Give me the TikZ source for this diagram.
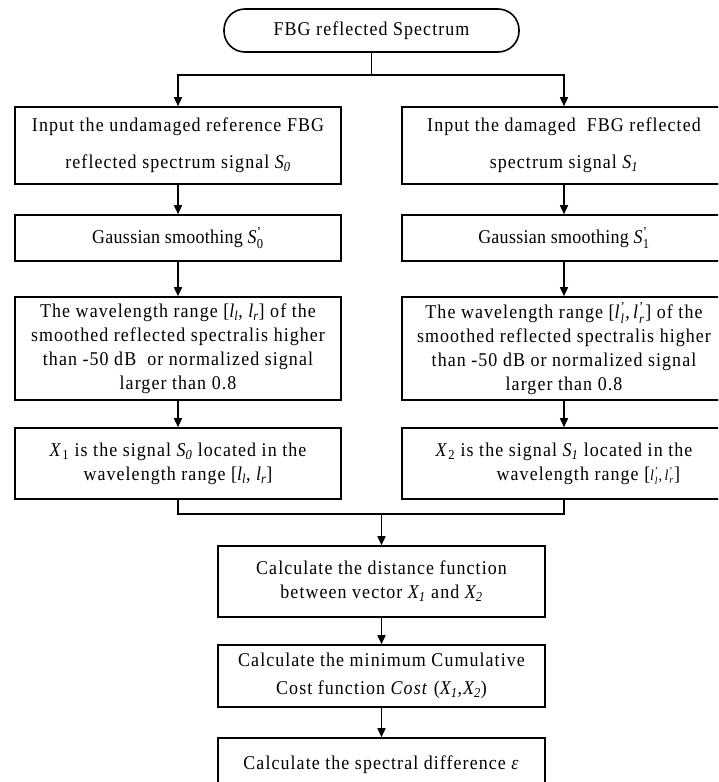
\documentclass[tikz,border=0pt]{standalone}
\usepackage{fontspec}
\usepackage{amsmath}
\setmainfont{Liberation Serif}[FakeStretch=0.92]
\usetikzlibrary{arrows.meta}
\newcommand\pS[1]{\textit{S}$^{\text{'}}_{\text{#1}}$}
\newcommand\iS[1]{\textit{S\textsubscript{#1}}}
\newcommand\lp[1]{\textit{l}$^{\text{'}}_{\text{\textit{#1}}}$}
\begin{document}
\begin{tikzpicture}[x=1pt,y=-1pt,
  box/.style={draw, line width=1.6pt, align=center, inner sep=0pt,
    font=\fontsize{19.5}{24}\selectfont\addfontfeature{LetterSpace=5.5}},
  tight/.style={font=\fontsize{19.5}{24}\selectfont\addfontfeature{LetterSpace=1.5}},
  mid/.style={font=\fontsize{19.5}{24}\selectfont\addfontfeature{LetterSpace=5.5}},
  arr/.style={line width=1.6pt, -{Triangle[length=9pt,width=8pt]}},
  ln/.style={line width=1.6pt}]
\clip (0,0) rectangle (718,782);
\node[box, rounded corners=21pt, minimum width=295pt, minimum height=43pt] (top) at (371.5,30.5) {FBG reflected Spectrum};
\node[box, mid, minimum width=326pt, minimum height=77pt] (L1) at (178,145.5) {Input the undamaged reference FBG\\[13pt] reflected spectrum signal \iS{0}};
\node[box, minimum width=324pt, minimum height=77pt] (R1) at (564,145.5) {Input the damaged\ \ FBG reflected\\[13pt] spectrum signal \iS{1}};
\node[box, tight, minimum width=326pt, minimum height=46pt] (L2) at (178,238) {Gaussian smoothing \pS{0}};
\node[box, tight, minimum width=324pt, minimum height=46pt] (R2) at (564,238) {Gaussian smoothing \pS{1}};
\node[box, minimum width=326pt, minimum height=103pt] (L3) at (178,348.5) {The wavelength range [\textit{l\textsubscript{l}}, \textit{l\textsubscript{r}}] of the\\ smoothed reflected spectralis higher\\ than -50 dB\ \ or normalized signal\\ larger than 0.8};
\node[box, minimum width=324pt, minimum height=103pt] (R3) at (564,348.5) {The wavelength range [\lp{l},\,\lp{r}] of the\\ smoothed reflected spectralis higher\\ than -50 dB or normalized signal\\ larger than 0.8};
\node[box, minimum width=326pt, minimum height=71pt] (L4) at (178,463.5) {\textit{X}\textsubscript{1} is the signal \iS{0} located in the\\ wavelength range [\textit{l\textsubscript{l}}, \textit{l\textsubscript{r}}]};
\node[box, minimum width=324pt, minimum height=71pt] (R4) at (564,463.5) {\textit{X}\textsubscript{2} is the signal \iS{1} located in the\\ \hspace*{2.5em}wavelength range [{\fontsize{15}{18}\selectfont\lp{l},\,\lp{r}}]};
\node[box, minimum width=327pt, minimum height=71pt] (M1) at (381.5,581.5) {Calculate the distance function\\ between vector \textit{X\textsubscript{1}} and \textit{X\textsubscript{2}}};
\node[box, minimum width=327pt, minimum height=62pt] (M2) at (381.5,676) {Calculate the minimum Cumulative\\[4pt] Cost function \textit{Cost} (\textit{X\textsubscript{1},X\textsubscript{2}})};
\node[box, minimum width=327pt, minimum height=62pt, text depth=0pt] (M3) at (381.5,769) {\raisebox{12pt}{Calculate the spectral difference \textit{ε}}};
\coordinate (split) at (371.5,75);
\coordinate (merge) at (381.5,514);
\draw[ln] (top.south) -- (split);
\draw[arr] (split) -| (L1.north);
\draw[arr] (split) -| (R1.north);
\draw[arr] (L1) -- (L2);
\draw[arr] (R1) -- (R2);
\draw[arr] (L2) -- (L3);
\draw[arr] (R2) -- (R3);
\draw[arr] (L3) -- (L4);
\draw[arr] (R3) -- (R4);
\draw[ln] (L4.south) |- (merge);
\draw[ln] (R4.south) |- (merge);
\draw[arr] (merge) -- (M1.north);
\draw[arr] (M1) -- (M2);
\draw[arr] (M2) -- (M3);
\end{tikzpicture}
\end{document}
